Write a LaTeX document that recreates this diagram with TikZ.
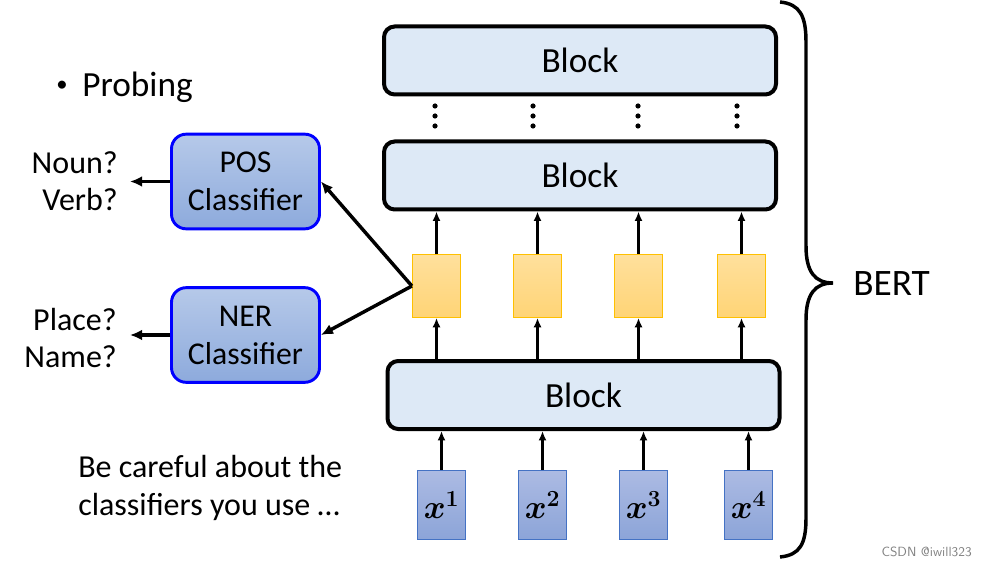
\documentclass[tikz,border=0pt]{standalone}
\usepackage{fontspec}
\setmainfont{Carlito}
\usepackage{amsmath,bm}
\usetikzlibrary{arrows.meta}

\definecolor{blockfill}{RGB}{221,233,246}
\definecolor{featline}{RGB}{255,192,0}
\definecolor{feattop}{RGB}{255,224,156}
\definecolor{featbot}{RGB}{255,212,118}
\definecolor{inpline}{RGB}{68,114,196}
\definecolor{inptop}{RGB}{172,187,227}
\definecolor{inpbot}{RGB}{140,164,216}
\definecolor{clftop}{RGB}{182,201,233}
\definecolor{clfbot}{RGB}{141,170,220}

\begin{document}
\begin{tikzpicture}[x=0.75pt, y=-0.75pt,
	every node/.style={inner sep=0pt},
	block/.style={draw=black, line width=3pt, rounded corners=8pt, fill=blockfill,
		minimum width=294pt, minimum height=51pt, font=\fontsize{26.5}{28}\selectfont},
	feat/.style={draw=featline, line width=0.9pt, top color=feattop, bottom color=featbot,
		minimum width=36pt, minimum height=47pt},
	inp/.style={draw=inpline, line width=0.9pt, top color=inptop, bottom color=inpbot,
		minimum width=36pt, minimum height=52pt, font=\fontsize{26}{26}\selectfont},
	clf/.style={draw=blue, line width=2.2pt, rounded corners=11pt, top color=clftop, bottom color=clfbot,
		minimum width=111pt, minimum height=71pt, align=center, font=\fontsize{23.8}{28.5}\selectfont},
	txt/.style={font=\fontsize{24}{28}\selectfont},
	up/.style={-{Latex[length=7pt,width=6pt]}, line width=1.8pt},
	probe/.style={-{Latex[length=9pt,width=8pt]}, line width=2.6pt},
	]
	\useasboundingbox (0,0) rectangle (988,566);

	% transformer blocks
	\node[block] (top) at (580,60.5) {Block};
	\node[block] (mid) at (580,175.5) {Block};
	\node[block] (low) at (583.5,395) {Block};

	% vertical dots
	\fill (435,106) circle (2.6) (435,116) circle (2.6) (435,126) circle (2.6);
	\fill (533,106) circle (2.6) (533,116) circle (2.6) (533,126) circle (2.6);
	\fill (638,106) circle (2.6) (638,116) circle (2.6) (638,126) circle (2.6);
	\fill (737,106) circle (2.6) (737,116) circle (2.6) (737,126) circle (2.6);

	% hidden features
	\node[feat] (h1) at (436.5,286) {};
	\node[feat] (h2) at (537.5,286) {};
	\node[feat] (h3) at (638.5,286) {};
	\node[feat] (h4) at (741.5,286) {};

	% inputs
	\node[inp] (x1) at (441.5,505) {$\bm{x^{1}}$};
	\node[inp] (x2) at (542.5,505) {$\bm{x^{2}}$};
	\node[inp] (x3) at (643.5,505) {$\bm{x^{3}}$};
	\node[inp] (x4) at (748.5,505) {$\bm{x^{4}}$};

	\draw[up] (x1.north) -- (x1.north |- low.south);
	\draw[up] (x2.north) -- (x2.north |- low.south);
	\draw[up] (x3.north) -- (x3.north |- low.south);
	\draw[up] (x4.north) -- (x4.north |- low.south);

	\draw[up] (h1.south |- low.north) -- (h1.south);
	\draw[up] (h2.south |- low.north) -- (h2.south);
	\draw[up] (h3.south |- low.north) -- (h3.south);
	\draw[up] (h4.south |- low.north) -- (h4.south);

	\draw[up] (h1.north) -- (h1.north |- mid.south);
	\draw[up] (h2.north) -- (h2.north |- mid.south);
	\draw[up] (h3.north) -- (h3.north |- mid.south);
	\draw[up] (h4.north) -- (h4.north |- mid.south);

	% probing classifiers
	\node[clf] (pos) at (245.5,181.5) {POS\\Classifier};
	\node[clf] (ner) at (245.5,335) {NER\\Classifier};
	\coordinate (posout) at (130,181.5);
	\coordinate (nerout) at (130,335);

	\draw[probe] (h1.west) -- (pos.east);
	\draw[probe] (h1.west) -- (ner.east);
	\draw[probe] (pos.west) -- (posout);
	\draw[probe] (ner.west) -- (nerout);

	\node[txt, align=right, anchor=east] (posans) at (118,181.5) {Noun?\\Verb?};
	\node[txt, align=right, anchor=east] (nerans) at (117,338) {Place?\\Name?};

	\node[font=\fontsize{17}{17}\selectfont, anchor=center] (bullet) at (62,86) {•};
	\node[font=\fontsize{26.5}{28}\selectfont, anchor=west] (probing) at (82,87) {Probing};
	\node[txt, align=left, anchor=west] (note) at (78,488) {Be careful about the\\classifiers you use \dots};

	% BERT brace
	\draw[line width=2.6pt] (780,2) .. controls (800,4) and (806,16) .. (806,42) -- (806,246)
		.. controls (806,272) and (815,283) .. (833,283)
		.. controls (815,283) and (806,294) .. (806,320) -- (806,518)
		.. controls (806,544) and (800,555) .. (780,557);
	\node[font=\fontsize{28}{30}\selectfont, anchor=west] (bert) at (853,284) {BERT};

	\node[font=\fontsize{10}{12}\selectfont\sffamily, text=gray, anchor=east] (mark) at (972,552) {CSDN @iwill323};
\end{tikzpicture}
\end{document}
